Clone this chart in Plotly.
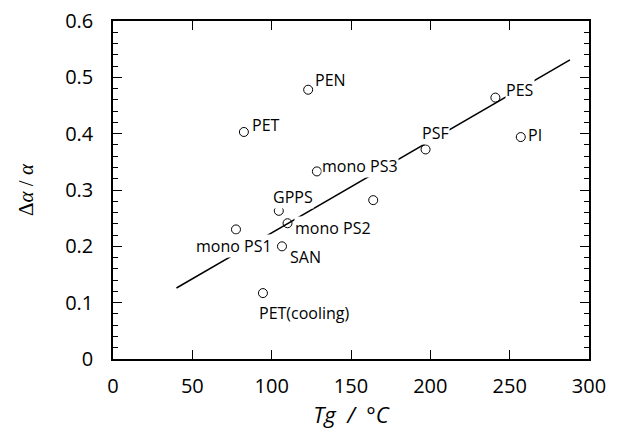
import plotly.graph_objects as go

# Data
names = ["PEN", "PET", "PES", "PSF", "PI", "mono PS3", "", "GPPS",
         "mono PS2", "mono PS1", "SAN", "PET(cooling)"]
tg = [123, 82.5, 241, 197, 257, 128.5, 164, 104.5, 110, 77.5, 106.5, 94.5]
da = [0.478, 0.403, 0.464, 0.372, 0.394, 0.333, 0.282, 0.263, 0.241, 0.230, 0.200, 0.117]

fit_x = [40, 288]
fit_y = [0.126, 0.531]

x_ticks = [0, 50, 100, 150, 200, 250, 300]
y_ticks = [0, 0.1, 0.2, 0.3, 0.4, 0.5, 0.6]

# label placement styles (pixel offsets from each point)
label_style = {
    "PEN": ("left", 6, 10),
    "PET": ("left", 7, 7),
    "PES": ("left", 10, 8),
    "PSF": ("center", 10, 16),
    "PI": ("left", 6, 2),
    "mono PS3": ("left", 4, 5),
    "GPPS": ("center", 14, 14),
    "mono PS2": ("left", 6, -5),
    "mono PS1": ("center", -2, -17),
    "SAN": ("left", 7, -11),
    "PET(cooling)": ("center", 42, -20),
}

fig = go.Figure()
fig.add_trace(go.Scatter(x=fit_x, y=fit_y, mode="lines",
                         line=dict(color="black", width=1.5),
                         hoverinfo="skip", showlegend=False))
fig.add_trace(go.Scatter(x=tg, y=da, mode="markers",
                         marker=dict(symbol="circle-open", size=9,
                                     color="black", line=dict(width=1)),
                         showlegend=False))

for n, xv, yv in zip(names, tg, da):
    if not n:
        continue
    anchor, dx, dy = label_style[n]
    fig.add_annotation(x=xv, y=yv, text=n, showarrow=False,
                       xanchor=anchor, yanchor="middle",
                       xshift=dx, yshift=dy, bgcolor="white", borderpad=0,
                       font=dict(family="Open Sans", size=16, color="black"))

fig.update_layout(
    width=617, height=429,
    margin=dict(l=113, r=28, t=21, b=70, autoexpand=False),
    paper_bgcolor="white", plot_bgcolor="white",
    font=dict(family="Open Sans", color="black"),
)
fig.update_xaxes(
    range=[0, 300], tickvals=x_ticks, ticktext=[str(v) for v in x_ticks],
    ticks="inside", ticklen=9, tickwidth=1.2, tickcolor="black",
    showline=True, linecolor="black", linewidth=1.5, mirror="ticks",
    showgrid=False, zeroline=False, automargin=False,
    tickfont=dict(family="Open Sans", size=20),
    ticklabelstandoff=8,
    title=dict(text="<i>Tg  /  °C</i>", font=dict(family="Open Sans", size=22),
               standoff=16),
)
fig.update_yaxes(
    range=[0, 0.6], tickvals=y_ticks, ticktext=["0", "0.1", "0.2", "0.3", "0.4", "0.5", "0.6"],
    ticks="inside", ticklen=9, tickwidth=1.2, tickcolor="black",
    minor=dict(dtick=0.02, ticks="inside", ticklen=5, tickcolor="black", tickwidth=1),
    showline=True, linecolor="black", linewidth=1.5, mirror="ticks",
    showgrid=False, zeroline=False, automargin=False,
    tickfont=dict(family="Open Sans", size=20),
    ticklabelstandoff=14,
    title=dict(text="Δ<i>α</i> / <i>α</i>", font=dict(family="Liberation Serif", size=21),
               standoff=26),
)

fig.write_html("out.html")
